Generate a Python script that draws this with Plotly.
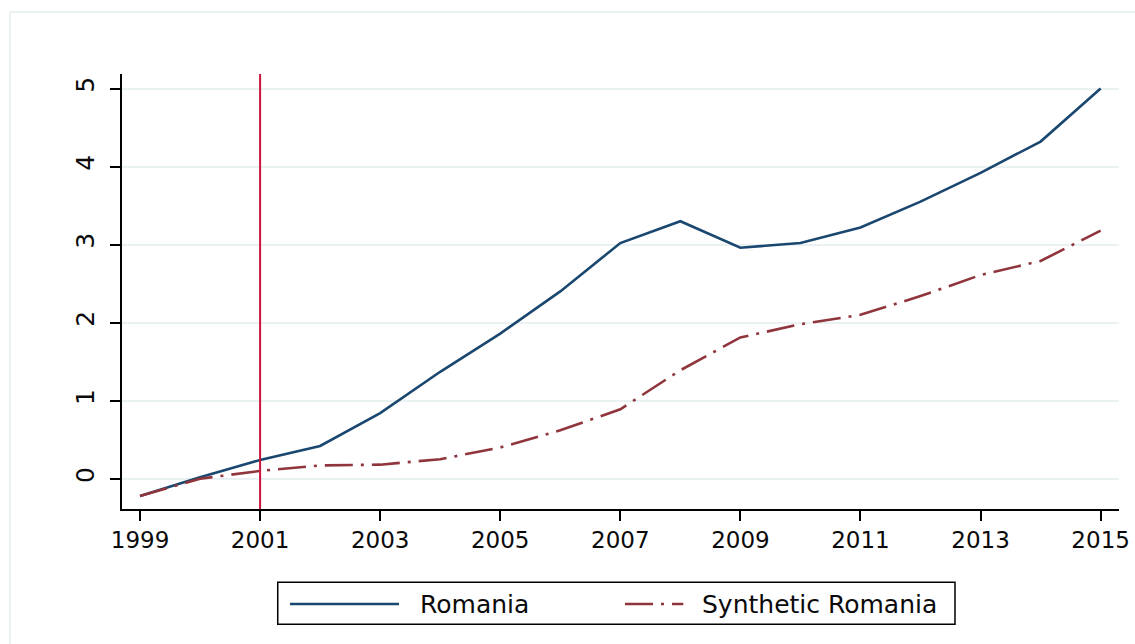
import plotly.graph_objects as go

# Annual series, 1999-2015
years = list(range(1999, 2016))
romania = [-0.22, 0.02, 0.24, 0.42, 0.84, 1.37, 1.86, 2.40, 3.02, 3.30,
           2.96, 3.02, 3.22, 3.55, 3.92, 4.32, 5.00]
synthetic_romania = [-0.22, 0.00, 0.10, 0.17, 0.18, 0.25, 0.40, 0.62, 0.89, 1.39,
                     1.81, 1.98, 2.10, 2.34, 2.61, 2.79, 3.18]
treatment_year = 2001

x_ticks = list(range(1999, 2016, 2))
y_ticks = [0, 1, 2, 3, 4, 5]

NAVY = "#1A476F"
MAROON = "#90353B"
CRIMSON = "#C8143C"
GRID = "#EAF1F3"
DASHDOT = "28px,8px,3px,8px"
FONT = "DejaVu Sans"
TEXT = "#0a0a0a"

fig = go.Figure()
fig.add_trace(go.Scatter(x=years, y=romania, mode="lines", name="Romania",
                         line=dict(color=NAVY, width=2.6)))
fig.add_trace(go.Scatter(x=years, y=synthetic_romania, mode="lines",
                         name="Synthetic Romania",
                         line=dict(color=MAROON, width=2.6, dash=DASHDOT)))

# Treatment marker
fig.add_vline(x=treatment_year, line=dict(color=CRIMSON, width=2), layer="above")

# Outer frame
fig.add_shape(type="rect", xref="paper", yref="paper",
              x0=-0.1123, x1=1.05, y0=-0.40, y1=1.1425,
              line=dict(color="#E6EEF0", width=1.5), fillcolor="rgba(0,0,0,0)",
              layer="below")

# Legend drawn below the plot
fig.add_shape(type="rect", xref="paper", yref="paper",
              x0=0.1562, x1=0.8355, y0=-0.2651, y1=-0.1685,
              line=dict(color="black", width=1.5), fillcolor="white")
fig.add_shape(type="line", xref="paper", yref="paper",
              x0=0.1685, x1=0.2778, y0=-0.2184, y1=-0.2184,
              line=dict(color=NAVY, width=2.6))
fig.add_shape(type="line", xref="paper", yref="paper",
              x0=0.5045, x1=0.5630, y0=-0.2184, y1=-0.2184,
              line=dict(color=MAROON, width=2.6, dash=DASHDOT))
fig.add_annotation(text="Romania", xref="paper", yref="paper",
                   x=0.2966, y=-0.2184, xanchor="left", yanchor="middle",
                   showarrow=False, font=dict(family=FONT, size=25, color=TEXT))
fig.add_annotation(text="Synthetic Romania", xref="paper", yref="paper",
                   x=0.5797, y=-0.2184, xanchor="left", yanchor="middle",
                   showarrow=False, font=dict(family=FONT, size=25, color=TEXT))

fig.update_layout(
    width=1135, height=644,
    margin=dict(l=122, r=16, t=74, b=135),
    paper_bgcolor="white", plot_bgcolor="white",
    showlegend=False,
    font=dict(family=FONT, size=23, color=TEXT),
    xaxis=dict(range=[1998.70, 2015.306], tickvals=x_ticks, automargin=False,
               ticks="outside", ticklen=10, tickwidth=1.5, tickcolor="black",
               showline=True, linecolor="black", linewidth=1.5,
               showgrid=False, zeroline=False,
               tickfont=dict(family=FONT, size=23, color=TEXT)),
    yaxis=dict(range=[-0.388, 5.186], tickvals=y_ticks, tickangle=-90,
               automargin=False, ticklabelstandoff=6,
               ticks="outside", ticklen=10, tickwidth=1.5, tickcolor="black",
               showline=True, linecolor="black", linewidth=1.5,
               showgrid=True, gridcolor=GRID, gridwidth=1.5, zeroline=False,
               tickfont=dict(family=FONT, size=25, color=TEXT)),
)

fig.write_html("out.html")
